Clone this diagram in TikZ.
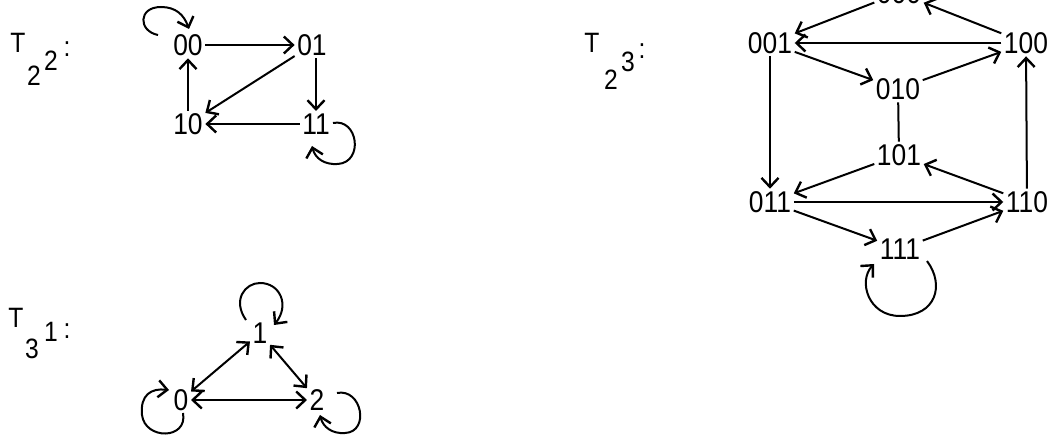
\documentclass[tikz,border=0pt]{standalone}
\usepackage{fontspec}
\setmainfont{Liberation Sans}[FakeStretch=0.88]
\usetikzlibrary{arrows.meta,calc}
\begin{document}
\begin{tikzpicture}[x=1pt,y=-1pt,
  st/.style={inner sep=2.5pt, font=\fontsize{30}{30}\selectfont},
  lbl/.style={inner sep=0pt, font=\fontsize{28}{28}\selectfont},
  tip/.tip={Straight Barb[length=9pt,width=17pt,line width=2.4pt]},
  edge/.style={line width=2pt, -tip},
  both/.style={line width=2pt, tip-tip},
  plain/.style={line width=2pt}]
\useasboundingbox (0,0) rectangle (1053,438);
\clip (0,0) rectangle (1053,438);
% ---- T_2 2 ----
\node[lbl] (aT) at (18,43) {T};
\node[lbl] (aS) at (34,76) {2};
\node[lbl] (aP) at (51,61) {2};
\node[lbl] (aC) at (67,49) {:};
\node[st] (n00) at (188,45) {00};
\node[st] (n01) at (312,45) {01};
\node[st] (n10) at (188,124) {10};
\node[st] (n11) at (316,124) {11};
\draw[edge] (n00) -- (n01);
\draw[edge] (n01) -- (n10);
\draw[edge] ($(n01.south)+(4,0)$) -- (n11.north);
\draw[edge] (n11) -- (n10);
\draw[edge] (n10) -- (n00);
\draw[edge] ($(n00)+(-30,-10)$) .. controls ($(n00)+(-50,-14)$) and ($(n00)+(-50,-38)$) .. ($(n00)+(-27,-38)$) .. controls ($(n00)+(-12,-38)$) and ($(n00)+(-4,-30)$) .. ($(n00)+(1,-16)$);
\draw[edge] ($(n11)+(17,-1)$) .. controls ($(n11)+(42,-6)$) and ($(n11)+(48,38)$) .. ($(n11)+(22,40)$) .. controls ($(n11)+(8,41)$) and ($(n11)+(-1,34)$) .. ($(n11)+(-4,22)$);
% ---- T_2 3 ----
\node[lbl] (bT) at (592,43) {T};
\node[lbl] (bS) at (611,80) {2};
\node[lbl] (bP) at (628,62) {3};
\node[lbl] (bC) at (642,51) {:};
\node[st] (m000) at (899,-7) {000};
\node[st] (m001) at (770,43) {001};
\node[st] (m100) at (1026,43) {100};
\node[st] (m010) at (898,89) {010};
\node[st] (m101) at (899,155) {101};
\node[st] (m011) at (770,202) {011};
\node[st] (m110) at (1027,202) {110};
\node[st] (m111) at (900,249) {111};
\draw[edge] (m000) -- (m001);
\draw[edge] (m100) -- (m000);
\draw[edge] (m100) -- (m001);
\draw[edge] (m001) -- (m010);
\draw[edge] (m010) -- (m100);
\draw[plain] (m010) -- (m101);
\draw[edge] (m001) -- (m011);
\draw[edge] (m101) -- (m011);
\draw[edge] (m110) -- (m101);
\draw[edge] (m110) -- (m100);
\draw[edge] (m011) -- (m110);
\draw[edge] (m011) -- (m111);
\draw[edge] (m111) -- (m110);
\draw[edge] ($(m111)+(27,12)$) .. controls ($(m111)+(45,36)$) and ($(m111)+(36,67)$) .. ($(m111)+(0,67)$) .. controls ($(m111)+(-32,67)$) and ($(m111)+(-42,32)$) .. ($(m111)+(-26,15)$);
% ---- T_3 1 ----
\node[lbl] (cT) at (16,318) {T};
\node[lbl] (cS) at (32,349) {3};
\node[lbl] (cP) at (51,332) {1};
\node[lbl] (cC) at (67,331) {:};
\node[st] (t1) at (260,333) {1};
\node[st] (t0) at (181,400) {0};
\node[st] (t2) at (317,400) {2};
\draw[both] (t0) -- (t1);
\draw[both] (t1) -- (t2);
\draw[both] (t0) -- (t2);
\draw[edge] ($(t1)+(-14,-13)$) .. controls ($(t1)+(-28,-33)$) and ($(t1)+(-15,-50)$) .. ($(t1)+(0,-50)$) .. controls ($(t1)+(20,-50)$) and ($(t1)+(30,-28)$) .. ($(t1)+(14,-8)$);
\draw[edge] ($(t0)+(2,13)$) .. controls ($(t0)+(7,40)$) and ($(t0)+(-36,40)$) .. ($(t0)+(-39,15)$) .. controls ($(t0)+(-41,-5)$) and ($(t0)+(-30,-12)$) .. ($(t0)+(-12,-10)$);
\draw[edge] ($(t2)+(20,-7)$) .. controls ($(t2)+(45,-12)$) and ($(t2)+(53,32)$) .. ($(t2)+(28,33)$) .. controls ($(t2)+(15,34)$) and ($(t2)+(6,27)$) .. ($(t2)+(3,15)$);
\end{tikzpicture}
\end{document}
